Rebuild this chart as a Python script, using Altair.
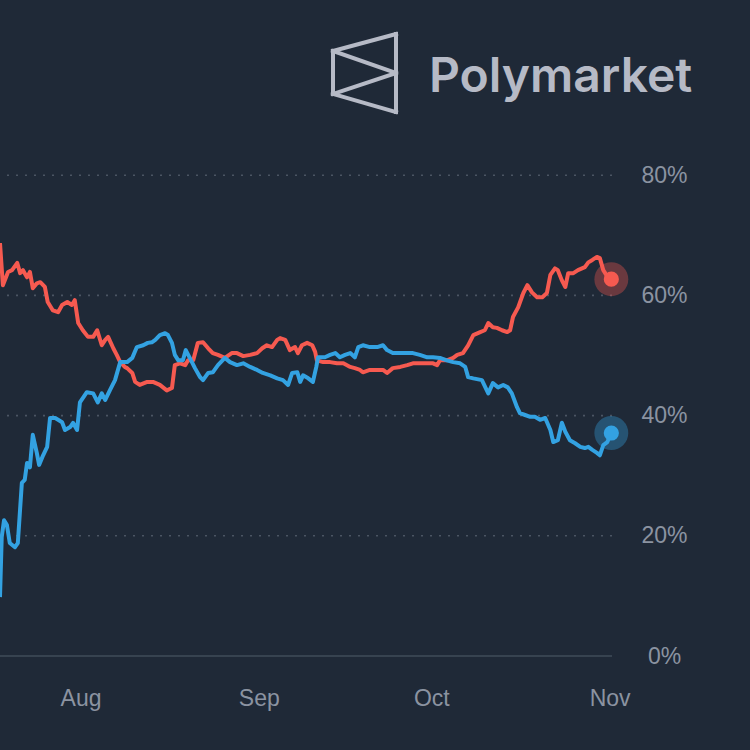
import altair as alt
import pandas as pd

# ---- data (days after 2024-07-18, probability %) ----
trump_days = [0, 0.5, 1.4, 2.1, 3.0, 3.5, 4.0, 4.7, 5.2, 5.7, 6.4, 7.0, 7.8, 8.3, 9.2, 10.1, 10.8, 11.7,
              12.5, 13.0, 13.6, 14.4, 15.3, 16.2, 16.9, 17.7, 18.3, 18.8, 19.7, 20.3, 20.9, 21.7, 22.1,
              23.0, 23.5, 24.3, 25.6, 26.6, 27.8, 29.0, 29.9, 30.4, 31.3, 32.2, 32.7, 33.6, 34.4, 35.3,
              36.2, 37.0, 37.9, 39.1, 40.3, 41.2, 42.3, 43.5, 44.7, 45.6, 46.4, 47.3, 48.2, 48.7, 49.6,
              50.4, 51.3, 51.8, 52.5, 53.4, 54.3, 54.8, 55.1, 56.2, 57.4, 58.6, 59.7, 60.9, 61.7, 62.6,
              63.1, 64.3, 65.6, 66.6, 67.3, 68.3, 69.6, 70.8, 71.8, 73.0, 74.3, 75.3, 76.0, 76.5, 77.7,
              78.8, 79.5, 80.5, 81.4, 82.3, 83.5, 84.3, 84.9, 85.7, 86.4, 87.3, 88.2, 88.7, 89.2, 90.1,
              91.0, 91.7, 92.5, 93.4, 94.3, 95.1, 95.7, 96.5, 97.0, 97.7, 98.3, 98.8, 99.7, 100.5, 101.7,
              102.3, 103.0, 103.8, 104.3, 104.9, 105.7, 106.3]
trump_vals = [68.7, 61.7, 63.9, 64.2, 65.4, 63.7, 64.2, 63.0, 63.9, 61.2, 62.0, 62.2, 61.4, 58.9, 57.5,
              57.2, 58.4, 58.9, 58.4, 59.2, 55.4, 54.2, 53.1, 53.1, 54.2, 51.7, 52.6, 53.1, 51.2, 50.1,
              48.9, 48.1, 47.9, 47.1, 45.6, 45.1, 45.6, 45.6, 45.1, 44.2, 44.6, 48.4, 48.7, 48.4, 49.2,
              49.2, 52.1, 52.2, 51.2, 50.4, 50.1, 49.6, 50.4, 50.4, 49.9, 50.1, 50.4, 51.2, 51.7, 51.4,
              52.6, 52.9, 52.6, 50.9, 51.4, 50.4, 51.7, 52.1, 51.7, 50.6, 49.2, 48.9, 48.9, 48.7, 48.7,
              48.1, 47.9, 47.6, 47.2, 47.6, 47.6, 47.6, 47.1, 47.9, 48.1, 48.4, 48.7, 48.7, 48.7, 48.7,
              48.4, 49.2, 49.2, 49.6, 50.1, 50.4, 51.7, 53.4, 53.9, 54.2, 55.4, 54.7, 54.6, 54.2, 53.9,
              54.2, 56.4, 58.0, 60.4, 61.7, 60.5, 59.7, 59.7, 60.4, 63.4, 64.5, 64.2, 62.5, 61.4, 63.7,
              63.7, 64.2, 64.7, 65.5, 65.9, 66.4, 66.2, 64.2, 63.0, 62.7]

harris_days = [0, 0.3, 0.7, 1.2, 1.7, 2.6, 3.1, 3.8, 4.3, 4.7, 5.2, 5.7, 6.4, 6.8, 7.5, 8.2, 8.7, 9.6,
               10.8, 11.3, 12.2, 12.7, 13.4, 13.9, 15.1, 16.2, 17.0, 17.7, 18.3, 19.1, 20.0, 20.9, 22.1,
               23.0, 23.8, 24.9, 25.7, 26.4, 27.0, 27.8, 28.7, 29.2, 29.9, 30.4, 31.0, 31.8, 32.3, 33.0,
               33.9, 34.8, 35.3, 36.2, 37.0, 37.9, 39.1, 40.0, 41.2, 42.3, 43.5, 44.7, 45.7, 47.0, 48.2,
               49.2, 50.1, 50.8, 51.7, 52.2, 52.7, 53.6, 54.4, 55.0, 55.3, 56.5, 57.4, 58.3, 59.1, 60.0,
               60.9, 61.7, 62.3, 63.1, 64.3, 65.6, 66.6, 67.3, 68.3, 69.6, 70.8, 71.8, 73.0, 74.3, 75.3,
               76.5, 77.7, 78.8, 80.0, 80.9, 81.4, 82.3, 83.8, 84.9, 85.7, 86.6, 87.5, 88.3, 89.0, 89.9,
               90.4, 91.3, 92.2, 93.0, 93.9, 94.8, 95.7, 96.2, 97.0, 97.7, 98.3, 99.1, 100.0, 100.9,
               101.7, 102.3, 103.0, 103.8, 104.3, 104.9, 105.6, 106.3]
harris_vals = [9.8, 19.8, 22.6, 21.8, 18.8, 18.1, 18.8, 28.8, 29.3, 32.1, 31.4, 36.8, 33.8, 31.8, 33.4,
               34.8, 39.6, 39.6, 38.9, 37.6, 38.1, 38.8, 37.6, 42.2, 43.9, 43.7, 42.2, 43.7, 42.6, 44.2,
               45.9, 48.9, 48.9, 49.6, 51.4, 51.7, 52.1, 52.2, 52.6, 53.4, 53.7, 53.4, 52.1, 50.1, 49.2,
               49.2, 50.9, 49.6, 47.9, 46.4, 45.9, 47.1, 47.2, 48.4, 49.6, 48.9, 48.4, 48.7, 48.1, 47.6,
               47.1, 46.7, 46.2, 45.9, 45.1, 47.1, 47.2, 45.6, 46.7, 46.2, 45.6, 48.1, 49.7, 49.7, 50.1,
               50.4, 49.7, 50.1, 50.4, 49.7, 51.4, 51.7, 51.4, 51.4, 51.7, 50.9, 50.4, 50.4, 50.4, 50.4,
               50.1, 49.7, 49.7, 49.6, 49.2, 48.9, 48.7, 48.1, 46.4, 46.2, 45.9, 43.7, 45.4, 44.7, 45.1,
               44.7, 43.7, 41.4, 40.4, 40.1, 39.8, 39.8, 39.3, 39.6, 37.6, 35.6, 35.9, 38.8, 37.3, 35.9,
               35.4, 34.8, 34.6, 34.8, 34.3, 33.8, 33.4, 35.1, 35.6, 37.1]

grid_levels = [20, 40, 60, 80]
axis_levels = [0, 20, 40, 60, 80]
start_date = "2024-07-18"

RED = "#f65a50"
BLUE = "#33a2e2"
BG = "#1f2937"
LABEL = "#8b93a1"
LOGO = "#b6bac6"

start = pd.Timestamp(start_date)
red_df = pd.DataFrame({"t": start + pd.to_timedelta(trump_days, unit="D"), "v": trump_vals})
blue_df = pd.DataFrame({"t": start + pd.to_timedelta(harris_days, unit="D"), "v": harris_vals})
end_df = pd.DataFrame({
    "t": [red_df["t"].iloc[-1], blue_df["t"].iloc[-1]],
    "v": [trump_vals[-1], harris_vals[-1]],
    "s": ["Trump", "Harris"],
})
grid_df = pd.DataFrame({"v": grid_levels})
base_df = pd.DataFrame({"v": [0]})

x_scale = alt.Scale(domain=[alt.DateTime(year=2024, month=7, date=18),
                            alt.DateTime(year=2024, month=11, date=1, hours=10)])
y_scale = alt.Scale(domain=[0, 100])

x_axis = alt.Axis(values=[alt.DateTime(year=2024, month=m, date=1) for m in (8, 9, 10, 11)],
                  format="%b", title=None, grid=False, ticks=False, tickSize=0, domain=False,
                  labelFontSize=23, labelColor=LABEL, labelFont="Liberation Sans",
                  labelPadding=31, labelFlush=False, labelOverlap=False)
y_axis = alt.Axis(orient="right", values=axis_levels, labelExpr="datum.value + '%'", title=None,
                  grid=False, ticks=False, tickSize=0, domain=False, labelAlign="center",
                  labelBaseline="middle", labelPadding=52, labelFontSize=23, labelColor=LABEL,
                  labelFont="Liberation Sans")

X = alt.X("t:T", scale=x_scale, axis=x_axis)
Y = alt.Y("v:Q", scale=y_scale, axis=y_axis)

grid = alt.Chart(grid_df).mark_rule(color="#4b5563", strokeWidth=1.6, strokeDash=[2, 7]).encode(y=Y)
baseline = alt.Chart(base_df).mark_rule(color="#414c5a", strokeWidth=1.6).encode(y=Y)

red_line = alt.Chart(red_df).mark_line(color=RED, strokeWidth=4, clip=True,
                                       strokeJoin="round").encode(x=X, y=Y)
blue_line = alt.Chart(blue_df).mark_line(color=BLUE, strokeWidth=4, clip=True,
                                         strokeJoin="round").encode(x=X, y=Y)

color_enc = alt.Color("s:N", scale=alt.Scale(domain=["Trump", "Harris"], range=[RED, BLUE]), legend=None)
halo = alt.Chart(end_df).mark_circle(size=1150, opacity=0.35).encode(x=X, y=Y, color=color_enc)
dot = alt.Chart(end_df).mark_circle(size=230, opacity=1).encode(x=X, y=Y, color=color_enc)

# ---- Polymarket logo (decoration, in pixels relative to the plot origin) ----
logo_text = alt.Chart(pd.DataFrame({"label": ["Polymarket"]})).mark_text(
    align="left", baseline="alphabetic", font="Inter", fontSize=48, fontWeight=600, color=LOGO
).encode(x=alt.value(429), y=alt.value(37), text="label:N")

segs = [
    (333, -4, 396, -21),
    (396, -21, 396, 57),
    (396, 57, 333, 39),
    (333, 39, 333, -4),
    (333, -4, 396, 18),
    (396, 18, 333, 39),
]
logo_lines = [
    alt.Chart(pd.DataFrame({"k": [0]})).mark_rule(color=LOGO, strokeWidth=4, strokeCap="square").encode(
        x=alt.value(a), y=alt.value(b), x2=alt.value(c), y2=alt.value(d))
    for a, b, c, d in segs
]

chart = alt.layer(grid, baseline, red_line, blue_line, halo, dot, logo_text, *logo_lines).properties(
    width=612, height=601, background=BG,
    padding={"left": 0, "top": 55, "right": 138, "bottom": 94},
    autosize=alt.AutoSizeParams(type="none"),
).configure_view(stroke=None)

chart.save("out.html", embed_options={"renderer": "svg", "actions": False})
